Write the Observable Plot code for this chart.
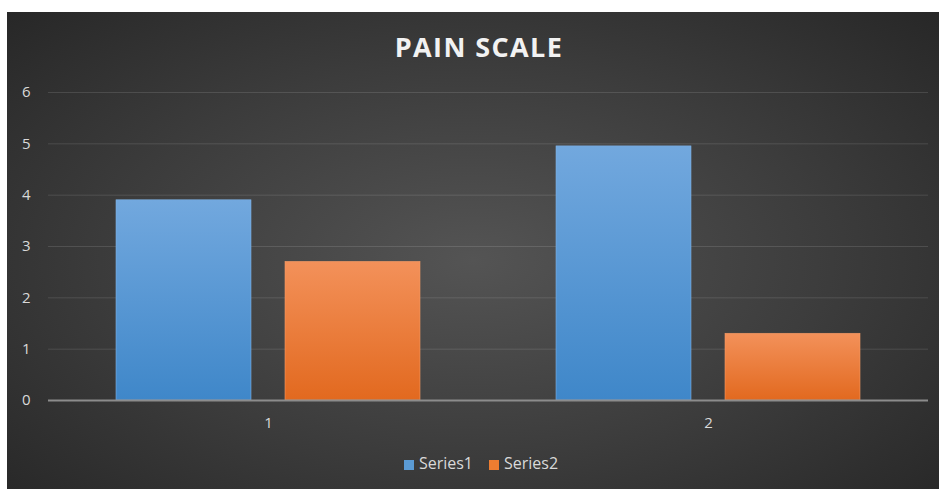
<!DOCTYPE html>
<html><head><meta charset="utf-8">
<script src="https://cdn.jsdelivr.net/npm/d3@7"></script>
<script src="https://cdn.jsdelivr.net/npm/@observablehq/plot@0.6"></script>
<style>
html,body{margin:0;padding:0;background:#fff;width:939px;height:489px;overflow:hidden;font-family:"Open Sans",sans-serif;}
#chart{position:absolute;left:7px;top:12px;width:932px;height:477px;
 background:radial-gradient(ellipse 70% 75% at 50% 52%, #545454 0%, #3c3c3c 55%, #272727 100%);}
#title{position:absolute;left:6px;width:100%;top:16px;text-align:center;color:#f2f2f2;font-weight:700;font-size:27px;letter-spacing:1.4px;}
#plot{position:absolute;left:0;top:60px;}
#legend{position:absolute;left:8px;width:100%;top:440px;text-align:center;color:#d9d9d9;font-size:16px;}
#legend span.sw{display:inline-block;width:10px;height:10px;margin-right:5px;vertical-align:-1px;}
#legend span.it{margin:0 8px;}
</style></head>
<body>
<div id="chart">
  <div id="title">PAIN SCALE</div>
  <div id="plot"></div>
  <div id="legend"></div>
</div>
<script>
const categories = ["1", "2"];
const seriesNames = ["Series1", "Series2"];
const series1 = [3.9, 4.95];
const series2 = [2.7, 1.3];
const yTicks = [0, 1, 2, 3, 4, 5, 6];
const legendColors = ["#5b9bd5", "#ed7d31"];

const data = [];
categories.forEach((c, i) => {
  data.push({cat: c, series: "Series1", value: series1[i]});
  data.push({cat: c, series: "Series2", value: series2[i]});
});

const chart = Plot.plot({
  width: 932,
  height: 370,
  marginLeft: 40,
  marginRight: 11,
  marginTop: 20,
  marginBottom: 42,
  style: {background: "transparent", color: "#d9d9d9", fontFamily: "Open Sans, sans-serif", fontSize: "14px"},
  fx: {domain: categories, padding: 0, label: null},
  x: {domain: seriesNames, paddingInner: 0.2, paddingOuter: 0.4, axis: null},
  y: {domain: [0, 6], label: null},
  marks: [
    Plot.gridY(yTicks, {stroke: "#ffffff", strokeOpacity: 0.12, strokeWidth: 1}),
    Plot.axisY(yTicks, {tickSize: 0, tickPadding: 18, label: null, fontSize: 15, fill: "#d9d9d9", tickFormat: d3.format("d")}),
    Plot.axisFx({anchor: "bottom", tickSize: 0, tickPadding: 17, label: null, fontSize: 15, fill: "#d9d9d9"}),
    Plot.barY(data.filter(d => d.series === "Series1"), {fx: "cat", x: "series", y: "value", fill: "url(#gBlue)", stroke: "#7fb1e3", strokeWidth: 0.6}),
    Plot.barY(data.filter(d => d.series === "Series2"), {fx: "cat", x: "series", y: "value", fill: "url(#gOrange)", stroke: "#f39a66", strokeWidth: 0.6}),
    Plot.ruleY([0], {stroke: "#8c8c8c", strokeWidth: 2})
  ]
});

const ns = "http://www.w3.org/2000/svg";
const defs = document.createElementNS(ns, "defs");
function grad(id, top, bottom) {
  const g = document.createElementNS(ns, "linearGradient");
  g.setAttribute("id", id);
  g.setAttribute("x1", "0"); g.setAttribute("y1", "0");
  g.setAttribute("x2", "0"); g.setAttribute("y2", "1");
  const s1 = document.createElementNS(ns, "stop");
  s1.setAttribute("offset", "0"); s1.setAttribute("stop-color", top);
  const s2 = document.createElementNS(ns, "stop");
  s2.setAttribute("offset", "1"); s2.setAttribute("stop-color", bottom);
  g.appendChild(s1); g.appendChild(s2);
  defs.appendChild(g);
}
grad("gBlue", "#72a8de", "#3f87c9");
grad("gOrange", "#f3915a", "#e2691f");
chart.insertBefore(defs, chart.firstChild);
document.getElementById("plot").appendChild(chart);

const legend = document.getElementById("legend");
seriesNames.forEach((s, i) => {
  const it = document.createElement("span");
  it.className = "it";
  const sw = document.createElement("span");
  sw.className = "sw";
  sw.style.background = legendColors[i];
  it.appendChild(sw);
  it.appendChild(document.createTextNode(s));
  legend.appendChild(it);
});
</script>
</body></html>
